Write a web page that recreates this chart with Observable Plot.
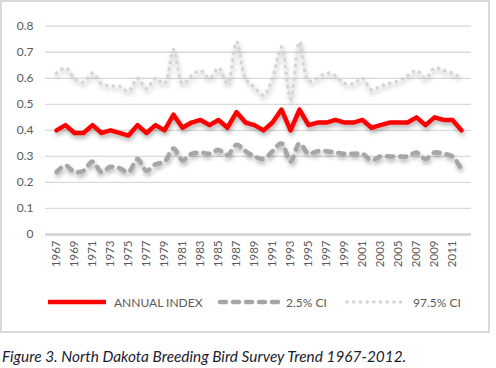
<!DOCTYPE html>
<html>
<head>
<meta charset="utf-8">
<script src="https://cdn.jsdelivr.net/npm/d3@7"></script>
<script src="https://cdn.jsdelivr.net/npm/@observablehq/plot@0.6"></script>
<style>
  html, body { margin: 0; padding: 0; background: #fff; }
  body { width: 496px; height: 368px; position: relative; overflow: hidden; font-family: Lato, "Open Sans", sans-serif; }
  #box { position: absolute; left: 0; top: 0; width: 486px; height: 329px; border: 2px solid #d9d9d9; box-sizing: content-box; }
  #chart { position: absolute; left: 0; top: 0; }
  .shadow path { filter: drop-shadow(1px 3px 2px rgba(0,0,0,0.3)); }
  #legend { position: absolute; top: 294px; left: 0; width: 496px; height: 16px; font-size: 12px; color: #595959; }
  .item { position: absolute; top: 0; display: flex; align-items: center; height: 16px; }
  .item svg { margin-right: 5px; }
  #caption { position: absolute; left: 2px; top: 347px; font-style: italic; font-size: 15.4px; line-height: 1.2; color: #1c1c30; white-space: nowrap; }
</style>
</head>
<body>
<div id="box"></div>
<div id="chart"></div>
<div id="legend"></div>
<div id="caption">Figure 3. North Dakota Breeding Bird Survey Trend 1967-2012.</div>
<script>
const years = [1967,1968,1969,1970,1971,1972,1973,1974,1975,1976,1977,1978,1979,1980,1981,1982,1983,1984,1985,1986,1987,1988,1989,1990,1991,1992,1993,1994,1995,1996,1997,1998,1999,2000,2001,2002,2003,2004,2005,2006,2007,2008,2009,2010,2011,2012];
const annualIndex = [0.40,0.42,0.39,0.39,0.42,0.39,0.40,0.39,0.38,0.42,0.39,0.42,0.40,0.46,0.41,0.43,0.44,0.42,0.44,0.41,0.47,0.43,0.42,0.40,0.43,0.48,0.40,0.48,0.42,0.43,0.43,0.44,0.43,0.43,0.44,0.41,0.42,0.43,0.43,0.43,0.45,0.42,0.45,0.44,0.44,0.40];
const ci025 = [0.24,0.265,0.24,0.245,0.28,0.24,0.26,0.255,0.24,0.29,0.245,0.27,0.28,0.33,0.285,0.31,0.315,0.31,0.325,0.305,0.345,0.32,0.30,0.29,0.32,0.35,0.28,0.35,0.31,0.32,0.32,0.315,0.31,0.31,0.31,0.285,0.30,0.30,0.30,0.30,0.315,0.29,0.315,0.31,0.30,0.25];
const ci975 = [0.62,0.64,0.60,0.585,0.62,0.58,0.57,0.57,0.55,0.60,0.56,0.60,0.58,0.71,0.58,0.61,0.63,0.60,0.64,0.58,0.74,0.60,0.565,0.535,0.60,0.72,0.52,0.74,0.59,0.60,0.62,0.61,0.58,0.58,0.60,0.555,0.57,0.58,0.59,0.61,0.63,0.60,0.64,0.63,0.62,0.60];
const yTicks = [0,0.1,0.2,0.3,0.4,0.5,0.6,0.7,0.8];
const xTickYears = years.filter(y => y % 2 === 1);
const seriesNames = ["ANNUAL INDEX", "2.5% CI", "97.5% CI"];

const rows = (vals) => years.map((year, i) => ({year, value: vals[i]}));
const s1 = rows(annualIndex), s2 = rows(ci025), s3 = rows(ci975);

const styles = [
  {stroke: "#ff0000", strokeWidth: 4.5, dash: null},
  {stroke: "#a6a6a6", strokeWidth: 4.5, dash: "6,7"},
  {stroke: "#d4d4d4", strokeWidth: 3.5, dash: "0.1,6.6"}
];

const chart = Plot.plot({
  width: 496,
  height: 275,
  marginLeft: 45,
  marginRight: 25,
  marginTop: 25.7,
  marginBottom: 41,
  style: {fontFamily: "Lato, 'Open Sans', sans-serif", color: "#595959", background: "transparent"},
  x: {type: "point", domain: years, padding: 0.5},
  y: {domain: [0, 0.8]},
  marks: [
    Plot.ruleY(yTicks.filter(d => d > 0), {stroke: "#d9d9d9", strokeWidth: 1.3, strokeOpacity: 1}),
    Plot.ruleY([0], {stroke: "#d9d9d9", strokeWidth: 3, strokeOpacity: 1}),
    Plot.axisY({ticks: yTicks, tickSize: 0, tickPadding: 12, tickFormat: d => d === 0 ? "0" : d3.format(".1f")(d), fontSize: 12, label: null}),
    Plot.axisX({ticks: xTickYears, tickSize: 0, tickPadding: 6, tickRotate: -90, tickFormat: d => `${d}`, fontSize: 11.5, label: null}),
    Plot.line(s3, {x: "year", y: "value", stroke: styles[2].stroke, strokeWidth: styles[2].strokeWidth, strokeDasharray: styles[2].dash, strokeLinecap: "round", strokeLinejoin: "round", curve: "catmull-rom", className: "shadow"}),
    Plot.line(s2, {x: "year", y: "value", stroke: styles[1].stroke, strokeWidth: styles[1].strokeWidth, strokeDasharray: styles[1].dash, strokeLinecap: "round", strokeLinejoin: "round", curve: "catmull-rom", className: "shadow"}),
    Plot.line(s1, {x: "year", y: "value", stroke: styles[0].stroke, strokeWidth: styles[0].strokeWidth, strokeLinejoin: "round", className: "shadow"})
  ]
});
document.getElementById("chart").appendChild(chart);

// legend
const legend = document.getElementById("legend");
const lefts = [45, 217, 344];
seriesNames.forEach((name, i) => {
  const st = styles[i];
  const div = document.createElement("div");
  div.className = "item";
  div.style.left = lefts[i] + "px";
  div.innerHTML = `<svg width="64" height="10"><line x1="3" y1="5" x2="61" y2="5" stroke="${st.stroke}" stroke-width="${st.strokeWidth}" stroke-linecap="${i === 0 ? 'butt' : 'round'}" ${st.dash ? `stroke-dasharray="${st.dash}"` : ""}/></svg><span>${name}</span>`;
  legend.appendChild(div);
});
</script>
</body>
</html>
